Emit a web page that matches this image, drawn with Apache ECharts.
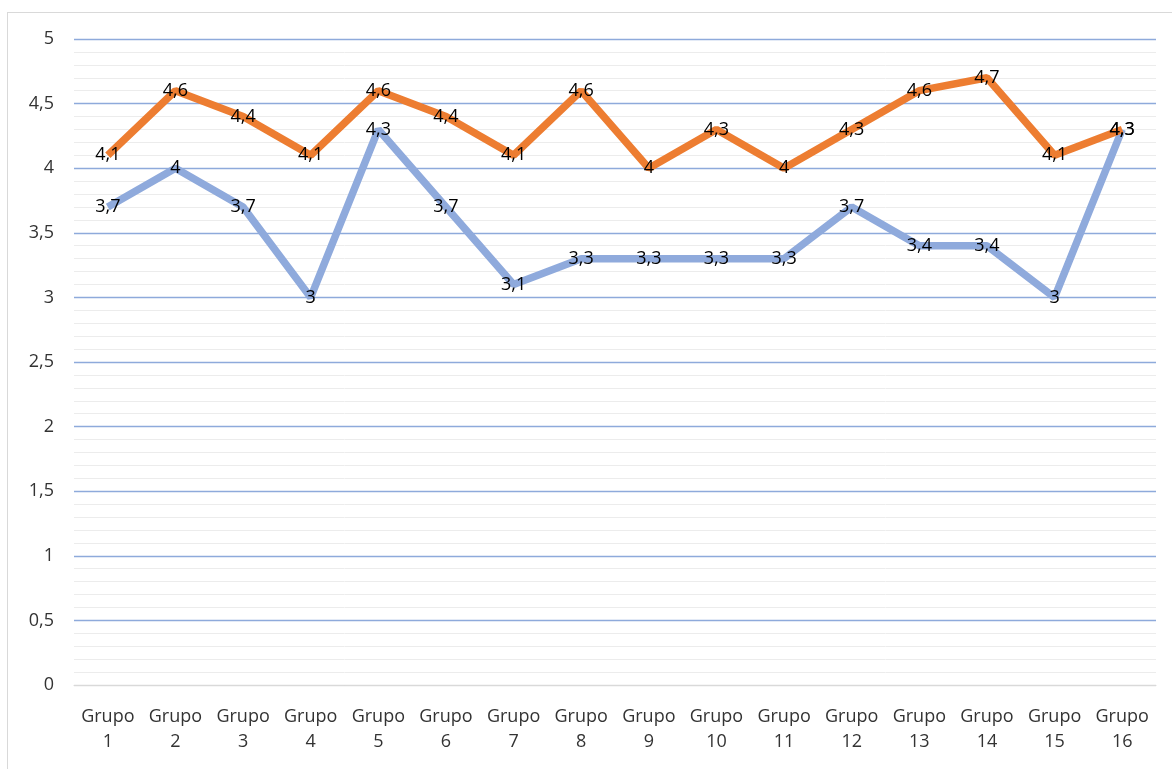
<!DOCTYPE html>
<html>
<head>
<meta charset="utf-8">
<script src="https://cdn.jsdelivr.net/npm/echarts@6/dist/echarts.min.js"></script>
<style>
  html, body { margin: 0; padding: 0; background: #fff; }
  #frame { position: absolute; left: 7px; top: 12px; width: 1200px; height: 800px; border: 1px solid #d9d9d9; }
  #chart { position: absolute; left: 0; top: 0; width: 1172px; height: 769px; }
</style>
</head>
<body>
<div id="frame"></div>
<div id="chart"></div>
<script>
const categories = ['Grupo\n1', 'Grupo\n2', 'Grupo\n3', 'Grupo\n4', 'Grupo\n5', 'Grupo\n6', 'Grupo\n7', 'Grupo\n8',
  'Grupo\n9', 'Grupo\n10', 'Grupo\n11', 'Grupo\n12', 'Grupo\n13', 'Grupo\n14', 'Grupo\n15', 'Grupo\n16']
const serieAzul = [3.7, 4, 3.7, 3, 4.3, 3.7, 3.1, 3.3, 3.3, 3.3, 3.3, 3.7, 3.4, 3.4, 3, 4.3]
const serieNaranja = [4.1, 4.6, 4.4, 4.1, 4.6, 4.4, 4.1, 4.6, 4, 4.3, 4, 4.3, 4.6, 4.7, 4.1, 4.3]

const fmt = v => String(v).replace('.', ',')
const font = '"Open Sans", "Noto Sans", sans-serif'

// la linea del 0 es gris, el resto azul
const gridColors = ['#d9d9d9'].concat(Array(10).fill('#8eaadb'))

const mychart = echarts.init(document.getElementById('chart'))
const label = {
  show: true,
  position: 'inside',
  color: '#000',
  fontSize: 18,
  fontFamily: font,
  formatter: p => fmt(p.value)
}
mychart.setOption({
  animation: false,
  grid: { left: 74, right: 16, top: 39, bottom: 84 },
  xAxis: {
    type: 'category',
    data: categories,
    boundaryGap: true,
    axisLine: { lineStyle: { color: '#d9d9d9', width: 1 } },
    axisTick: { show: false },
    axisLabel: { color: '#333', fontSize: 18, fontFamily: font, lineHeight: 25, margin: 19, interval: 0 }
  },
  yAxis: {
    type: 'value',
    min: 0,
    max: 5,
    interval: 0.5,
    axisLine: { show: false },
    axisTick: { show: false },
    axisLabel: { color: '#333', fontSize: 18, fontFamily: font, margin: 20, formatter: v => fmt(v) },
    splitLine: { lineStyle: { color: gridColors, width: 1.3 } },
    minorTick: { show: false, splitNumber: 5 },
    minorSplitLine: { show: true, lineStyle: { color: '#ececec', width: 1 } }
  },
  series: [
    {
      name: 'Azul',
      type: 'line',
      data: serieAzul,
      symbol: 'circle',
      symbolSize: 1,
      showAllSymbol: true,
      lineStyle: { color: '#8faadc', width: 7.5 },
      itemStyle: { color: 'rgba(0,0,0,0)' },
      label: label
    },
    {
      name: 'Naranja',
      type: 'line',
      data: serieNaranja,
      symbol: 'circle',
      symbolSize: 1,
      showAllSymbol: true,
      lineStyle: { color: '#ed7d31', width: 7.5 },
      itemStyle: { color: 'rgba(0,0,0,0)' },
      label: label
    }
  ]
})
</script>
</body>
</html>
